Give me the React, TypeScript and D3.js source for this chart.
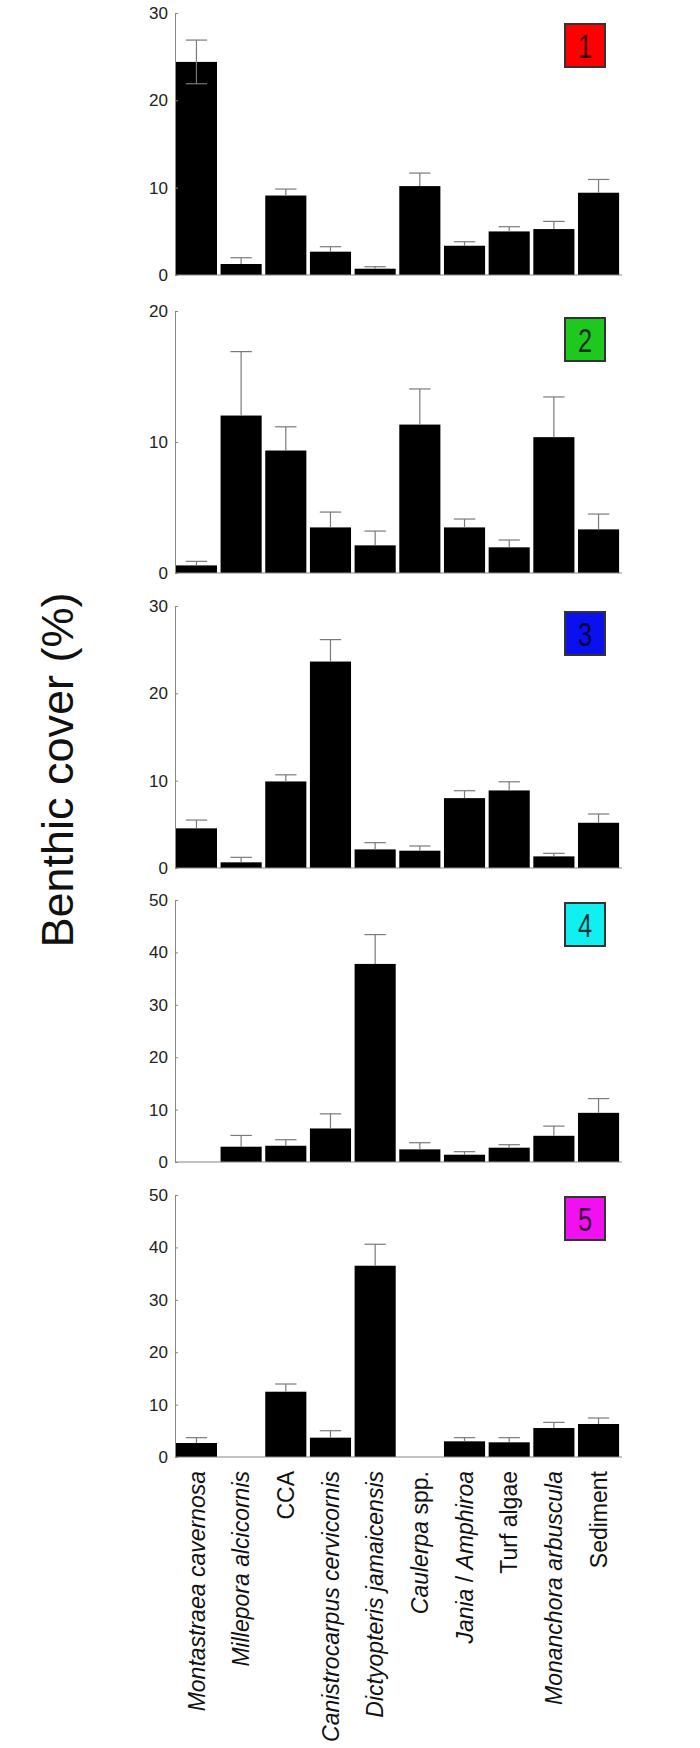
import React, { useEffect, useRef } from 'react';
import * as d3 from 'd3';

// --- data ---
const categories = [
  'Montastraea cavernosa',
  'Millepora alcicornis',
  'CCA',
  'Canistrocarpus cervicornis',
  'Dictyopteris jamaicensis',
  'Caulerpa spp.',
  'Jania / Amphiroa',
  'Turf algae',
  'Monanchora arbuscula',
  'Sediment',
];

// label pieces: [text, italic]
const labelParts: [string, boolean][][] = [
  [['Montastraea cavernosa', true]],
  [['Millepora alcicornis', true]],
  [['CCA', false]],
  [['Canistrocarpus cervicornis', true]],
  [['Dictyopteris jamaicensis', true]],
  [['Caulerpa', true], [' spp.', false]],
  [['Jania', true], [' / ', false], ['Amphiroa', true]],
  [['Turf algae', false]],
  [['Monanchora arbuscula', true]],
  [['Sediment', false]],
];

const panelIds = ['1', '2', '3', '4', '5'];
const panelColors = ['#ff0000', '#1ec81e', '#0a10ee', '#10f0f0', '#f010f0'];
const yMax = [30, 20, 30, 50, 50];

const mean1 = [24.4, 1.26, 9.1, 2.67, 0.72, 10.18, 3.35, 4.99, 5.26, 9.42];
const se1 = [2.5, 0.72, 0.74, 0.57, 0.23, 1.49, 0.46, 0.54, 0.88, 1.52];
const mean2 = [0.58, 12.02, 9.35, 3.48, 2.11, 11.33, 3.48, 1.96, 10.37, 3.33];
const se2 = [0.31, 4.88, 1.81, 1.17, 1.09, 2.72, 0.64, 0.56, 3.07, 1.17];
const mean3 = [4.54, 0.65, 9.91, 23.64, 2.13, 1.98, 8.0, 8.88, 1.33, 5.18];
const se3 = [0.95, 0.57, 0.76, 2.51, 0.77, 0.54, 0.85, 0.99, 0.35, 1.0];
const mean4 = [0, 2.92, 3.1, 6.4, 37.8, 2.41, 1.39, 2.73, 5.0, 9.38];
const se4 = [0, 2.15, 1.15, 2.79, 5.6, 1.27, 0.58, 0.57, 1.85, 2.72];
const mean5 = [2.67, 0, 12.46, 3.69, 36.5, 0, 2.99, 2.8, 5.53, 6.3];
const se5 = [1.02, 0, 1.47, 1.33, 4.1, 0, 0.7, 0.89, 1.08, 1.14];

const means = [mean1, mean2, mean3, mean4, mean5];
const ses = [se1, se2, se3, se4, se5];

// whiskers whose lower half shows through the bar: [panel, bar]
const lowerWhiskers = [[0, 0]];

const W = 700;
const H = 1748;
const FONT = '"Liberation Sans", Arial, sans-serif';

export default function App() {
  const svgRef = useRef<SVGSVGElement>(null);

  useEffect(() => {
    const svg = d3.select(svgRef.current);
    svg.selectAll('*').remove();

    const x0 = 175;
    const x1 = 620;
    const axisEnd = 622;
    const panelH = 262;
    const panelTops = [13, 311, 606, 900, 1195];
    const boxTops = [24, 318, 612, 903, 1197];

    const x = d3.scaleBand<string>()
      .domain(categories)
      .range([x0, x1])
      .paddingInner(0.08)
      .paddingOuter(0.02);

    panelIds.forEach((id, p) => {
      const top = panelTops[p];
      const y = d3.scaleLinear().domain([0, yMax[p]]).range([top + panelH, top]);
      const g = svg.append('g');

      // bars
      g.selectAll('rect.bar')
        .data(means[p])
        .join('rect')
        .attr('class', 'bar')
        .attr('x', (_, i) => x(categories[i])!)
        .attr('width', x.bandwidth())
        .attr('y', d => y(d))
        .attr('height', d => y(0) - y(d))
        .attr('fill', '#000');

      // error bars (upper half, plus lower where visible)
      const capW = x.bandwidth() * 0.52;
      const eg = g.append('g').attr('stroke', '#7a7a7a').attr('stroke-width', 1.2);
      means[p].forEach((m, i) => {
        if (m <= 0) return;
        const cx = x(categories[i])! + x.bandwidth() / 2;
        const hi = m + ses[p][i];
        eg.append('line').attr('x1', cx).attr('x2', cx).attr('y1', y(m)).attr('y2', y(hi));
        eg.append('line').attr('x1', cx - capW / 2).attr('x2', cx + capW / 2).attr('y1', y(hi)).attr('y2', y(hi));
        if (lowerWhiskers.some(([a, b]) => a === p && b === i)) {
          const lo = m - ses[p][i];
          eg.append('line').attr('x1', cx).attr('x2', cx).attr('y1', y(m)).attr('y2', y(lo));
          eg.append('line').attr('x1', cx - capW / 2).attr('x2', cx + capW / 2).attr('y1', y(lo)).attr('y2', y(lo));
        }
      });

      // y axis
      const ax = g.append('g')
        .attr('transform', `translate(${x0},0)`)
        .call(d3.axisLeft(y).tickValues(d3.range(0, yMax[p] + 1, 10)).tickSizeInner(-3).tickSizeOuter(0).tickPadding(7));
      ax.select('.domain').attr('stroke', '#888');
      ax.selectAll('.tick line').attr('stroke', '#888');
      ax.selectAll('.tick text')
        .attr('font-family', FONT)
        .attr('font-size', 17)
        .attr('fill', '#222');

      // x baseline
      g.append('line')
        .attr('x1', x0).attr('x2', axisEnd)
        .attr('y1', y(0)).attr('y2', y(0))
        .attr('stroke', '#888').attr('stroke-width', 1.2);

      // panel number box
      const bw = 40;
      const bh = 43;
      const bx = axisEnd - 17 - bw;
      const by = boxTops[p];
      g.append('rect')
        .attr('x', bx).attr('y', by).attr('width', bw).attr('height', bh)
        .attr('fill', panelColors[p])
        .attr('stroke', '#333').attr('stroke-width', 2);
      g.append('text')
        .attr('transform', `translate(${bx + bw / 2},${by + bh / 2 + 12}) scale(0.75,1)`)
        .attr('text-anchor', 'middle')
        .attr('font-family', FONT)
        .attr('font-size', 34)
        .attr('fill', '#000')
        .attr('fill-opacity', 0.78)
        .text(id);
    });

    // category labels under the last panel
    const baseY = panelTops[4] + panelH + 14;
    const lab = svg.append('g')
      .attr('font-family', FONT)
      .attr('font-size', 23)
      .attr('fill', '#111');
    categories.forEach((c, i) => {
      const cx = x(c)! + x.bandwidth() / 2;
      const t = lab.append('text')
        .attr('transform', `translate(${cx},${baseY}) rotate(-90)`)
        .attr('text-anchor', 'end')
        .attr('dy', '0.35em');
      labelParts[i].forEach(([s, it]) => {
        t.append('tspan')
          .attr('font-style', it ? 'italic' : 'normal')
          .attr('xml:space', 'preserve')
          .text(s);
      });
    });

    // y axis title
    svg.append('text')
      .attr('transform', 'translate(73,770) rotate(-90)')
      .attr('text-anchor', 'middle')
      .attr('font-family', FONT)
      .attr('font-size', 45)
      .attr('fill', '#111')
      .text('Benthic cover (%)');
  }, []);

  return (
    <svg
      ref={svgRef}
      width={W}
      height={H}
      style={{ position: 'absolute', left: 0, top: 0, background: '#fff' }}
    ></svg>
  );
}
